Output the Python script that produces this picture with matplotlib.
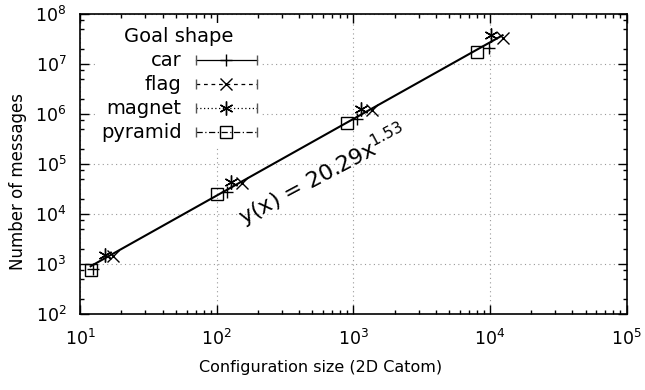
import numpy as np
import matplotlib.pyplot as plt
from matplotlib.lines import Line2D
from matplotlib.legend_handler import HandlerLine2D
from matplotlib.ticker import LogLocator, NullFormatter

plt.rcParams['font.family'] = ['DejaVu Sans']
plt.rcParams['mathtext.fontset'] = 'dejavusans'

# values (log-log)
car_x = [12.3, 118.6, 1055, 9860]
car_y = [790, 27000, 776000, 20.4e6]
flag_x = [17.5, 153, 1358, 12360]
flag_y = [1442, 40800, 1.19e6, 32.2e6]
magnet_x = [15.2, 126.7, 1136, 10100]
magnet_y = [1514, 44000, 1.23e6, 37.5e6]
pyramid_x = [11.9, 100.7, 891, 7980]
pyramid_y = [757, 24650, 664000, 17.4e6]

fit_a = 20.29
fit_b = 1.53


class CapHandler(HandlerLine2D):
    # legend sample drawn like a gnuplot errorbar key: line with end caps
    def create_artists(self, legend, orig_handle, xdescent, ydescent,
                       width, height, fontsize, trans):
        arts = super().create_artists(legend, orig_handle, xdescent, ydescent,
                                      width, height, fontsize, trans)
        y = (height - ydescent) / 2
        caps = Line2D([-xdescent, -xdescent + width], [y, y], ls='none',
                      marker='|', markersize=7, markeredgewidth=1.0,
                      color='#555555', transform=trans)
        return list(arts) + [caps]


fig = plt.figure(figsize=(6.45, 3.9), dpi=100)
ax = fig.add_axes([0.1245, 0.195, 0.847, 0.77])

series = [
    ('car', car_x, car_y, '+', '-', 8),
    ('flag', flag_x, flag_y, 'x', (0, (3, 3)), 8),
    ('magnet', magnet_x, magnet_y, (6, 2, 0), (0, (1, 2)), 10),
    ('pyramid', pyramid_x, pyramid_y, 's', (0, (5, 2, 1, 2)), 8),
]
handles = []
for name, xs, ys, mk, ls, ms in series:
    ax.plot(xs, ys, ls='none', marker=mk, ms=ms, mfc='none', mec='black',
            mew=1.0, zorder=3)
    handles.append(Line2D([], [], color='black', lw=0.9, ls=ls, marker=mk,
                          ms=ms, mfc='none', mec='black', mew=1.0,
                          label=name))

all_x = np.concatenate([car_x, flag_x, magnet_x, pyramid_x])
fx = np.logspace(np.log10(all_x.min()), np.log10(all_x.max()), 100)
ax.plot(fx, fit_a * fx ** fit_b, color='black', lw=1.5, zorder=2)

ax.text(600, 60000, r'y(x) = 20.29x$^{1.53}$', fontsize=16, rotation=28,
        rotation_mode='anchor', ha='center', va='center')

ax.set_xscale('log')
ax.set_yscale('log')
ax.set_xlim(10, 1e5)
ax.set_ylim(1e2, 1e8)
ax.xaxis.set_major_locator(LogLocator(base=10, numticks=10))
ax.yaxis.set_major_locator(LogLocator(base=10, numticks=10))
ax.xaxis.set_minor_locator(LogLocator(base=10, subs=np.arange(2, 10), numticks=20))
ax.yaxis.set_minor_locator(LogLocator(base=10, subs=[2, 5, 7.5], numticks=20))
ax.xaxis.set_minor_formatter(NullFormatter())
ax.yaxis.set_minor_formatter(NullFormatter())

ax.tick_params(which='both', direction='in', top=True, right=True,
               labelsize=12.5, width=1.0)
ax.tick_params(which='major', length=6.5)
ax.tick_params(axis='x', which='major', pad=11)
ax.tick_params(axis='y', which='major', pad=10)
ax.tick_params(which='minor', length=3.2)
for s in ax.spines.values():
    s.set_linewidth(1.2)

ax.grid(True, which='major', ls=(0, (1, 3)), color='#999999', lw=0.8)
ax.set_axisbelow(True)

ax.set_xlabel('Configuration size (2D Catom)', fontsize=11.5)
ax.xaxis.set_label_coords(0.439, -0.155)
ax.set_ylabel('Number of messages', fontsize=12)
ax.yaxis.set_label_coords(-0.098, 0.44)

leg = ax.legend(handles=handles, title='Goal shape', loc='upper left',
                bbox_to_anchor=(0.013, 1.0), markerfirst=False, fontsize=14,
                title_fontsize=14, handlelength=3.1, handletextpad=0.75,
                labelspacing=0.26, borderpad=0.2, frameon=True,
                fancybox=False, edgecolor='none', facecolor='white',
                framealpha=1.0, handler_map={Line2D: CapHandler()})
leg.set_zorder(5)

fig.savefig('out.png', dpi=100)
